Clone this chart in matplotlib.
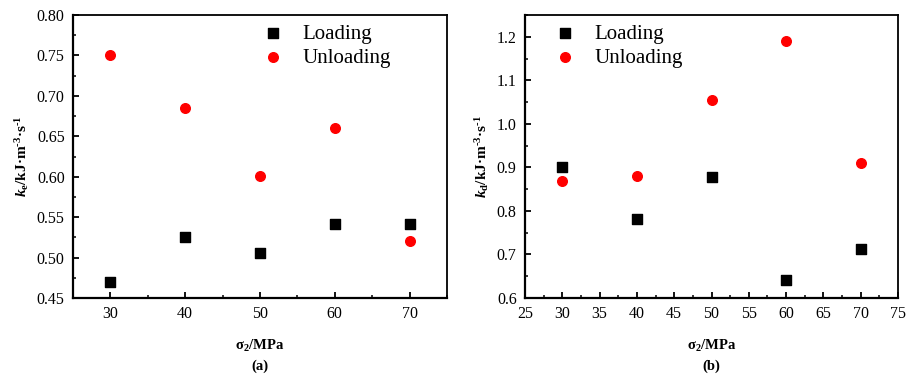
import matplotlib
matplotlib.use('Agg')
import matplotlib.pyplot as plt
from matplotlib.ticker import MultipleLocator, FormatStrFormatter

plt.rcParams['font.family'] = ['Liberation Serif', 'DejaVu Serif']
plt.rcParams['mathtext.fontset'] = 'custom'
plt.rcParams['mathtext.rm'] = 'Liberation Serif:bold'
plt.rcParams['mathtext.it'] = 'Liberation Serif:italic:bold'
plt.rcParams['mathtext.bf'] = 'Liberation Serif:bold'

sigma2 = [30, 40, 50, 60, 70]
# panel (a): k_e
ke_loading = [0.470, 0.526, 0.506, 0.542, 0.542]
ke_unloading = [0.750, 0.685, 0.601, 0.660, 0.521]
# panel (b): k_d
kd_loading = [0.901, 0.782, 0.878, 0.641, 0.712]
kd_unloading = [0.868, 0.881, 1.054, 1.190, 0.910]

W, H = 917, 377
fig = plt.figure(figsize=(W / 100, H / 100), dpi=100)
ax1 = fig.add_axes([73 / W, 1 - 298 / H, 374 / W, 283 / H])
ax2 = fig.add_axes([525 / W, 1 - 298 / H, 373 / W, 283 / H])


def style(ax):
    for s in ['left', 'bottom']:
        ax.spines[s].set_linewidth(1.6)
    for s in ['right', 'top']:
        ax.spines[s].set_linewidth(1.3)
    ax.tick_params(which='both', direction='in', top=False, right=False,
                   labelsize=11.5)
    ax.tick_params(which='major', length=4.5, width=1.3, pad=6)
    ax.tick_params(which='minor', length=2.5, width=1.1)
    ax.set_xlim(25, 75)
    ax.set_xlabel('σ$_2$/MPa', fontsize=10.5, fontweight='bold', labelpad=11)


def legend(ax, x_px):
    ax.legend(loc='upper left', bbox_to_anchor=(x_px / W, 1 - 16 / H),
              bbox_transform=fig.transFigure, borderaxespad=0, frameon=False,
              fontsize=15, handlelength=2, handletextpad=0.4, labelspacing=0.2)


# (a)
ax1.scatter(sigma2, ke_loading, marker='s', s=42, color='black', label='Loading', zorder=3)
ax1.scatter(sigma2, ke_unloading, marker='o', s=48, color='red', label='Unloading', zorder=3)
style(ax1)
ax1.set_ylim(0.45, 0.80)
ax1.xaxis.set_major_locator(MultipleLocator(10))
ax1.xaxis.set_minor_locator(MultipleLocator(5))
ax1.yaxis.set_major_locator(MultipleLocator(0.05))
ax1.yaxis.set_minor_locator(MultipleLocator(0.025))
ax1.yaxis.set_major_formatter(FormatStrFormatter('%.2f'))
ax1.set_ylabel('$\\mathit{k}_{\\rm e}$/kJ·m$^{\u20103}$·s$^{\u20101}$', fontsize=11,
               fontweight='bold', labelpad=4)
legend(ax1, 244)
fig.text((73 + 447) / 2 / W, 1 - 366 / H, '(a)', ha='center', va='center',
         fontsize=10.5, fontweight='bold')

# (b)
ax2.scatter(sigma2, kd_loading, marker='s', s=42, color='black', label='Loading', zorder=3)
ax2.scatter(sigma2, kd_unloading, marker='o', s=48, color='red', label='Unloading', zorder=3)
style(ax2)
ax2.set_ylim(0.6, 1.25)
ax2.xaxis.set_major_locator(MultipleLocator(5))
ax2.xaxis.set_minor_locator(MultipleLocator(2.5))
ax2.yaxis.set_major_locator(MultipleLocator(0.1))
ax2.yaxis.set_minor_locator(MultipleLocator(0.05))
ax2.yaxis.set_major_formatter(FormatStrFormatter('%.1f'))
ax2.set_ylabel('$\\mathit{k}_{\\rm d}$/kJ·m$^{\u20103}$·s$^{\u20101}$', fontsize=11,
               fontweight='bold', labelpad=4)
legend(ax2, 536)
fig.text((525 + 898) / 2 / W, 1 - 366 / H, '(b)', ha='center', va='center',
         fontsize=10.5, fontweight='bold')

fig.savefig('out.png', dpi=100)
